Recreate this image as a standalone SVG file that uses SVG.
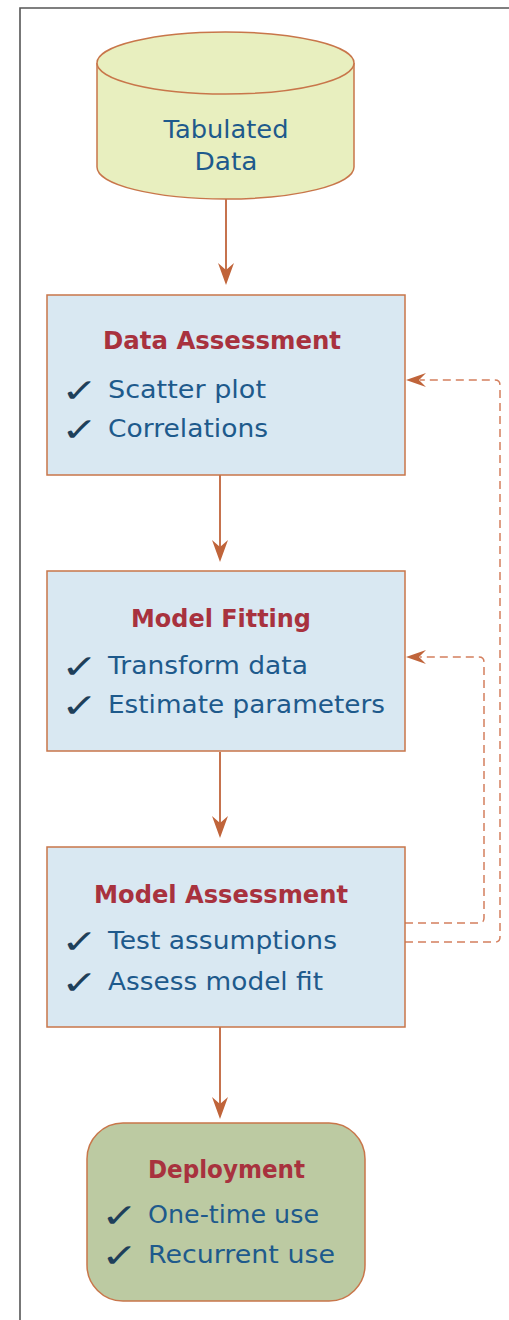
<svg xmlns="http://www.w3.org/2000/svg" width="509" height="1320" viewBox="0 0 509 1320">
<defs>
<style>
.box{fill:#d9e8f2;stroke:#c8764a;stroke-width:1.5}
.dep{fill:#bccaa2;stroke:#c8764a;stroke-width:1.5}
.cyl{fill:#e8efbf;stroke:#c8764a;stroke-width:1.5}
.title{font-family:"DejaVu Sans",sans-serif;font-weight:bold;font-size:24px;fill:#a8323e}
.item{font-family:"DejaVu Sans",sans-serif;font-size:25px;fill:#1e5a8c}
.chk{font-family:"DejaVu Sans",sans-serif;font-size:33px;fill:#1e3f5a}
.lbl{font-family:"DejaVu Sans",sans-serif;font-size:25px;fill:#1e5a8c;text-anchor:middle}
.solid{stroke:#c0643a;stroke-width:1.8;fill:none}
.dash{stroke:#d47f5e;stroke-width:1.5;fill:none;stroke-dasharray:8 5}
.head{fill:#c0643a}
</style>
</defs>
<path d="M509,8 H20 V1320" fill="none" stroke="#555" stroke-width="1.6"/>

<g id="connectors">
<path class="solid" d="M226,199 V278"/>
<path class="solid" d="M220,475 V555"/>
<path class="solid" d="M220,752 V831"/>
<path class="solid" d="M220,1027 V1112"/>
<path class="head" d="M226,285 L218,263 L226,270 L234,263 Z"/>
<path class="head" d="M220,562 L212,540 L220,547 L228,540 Z"/>
<path class="head" d="M220,838 L212,816 L220,823 L228,816 Z"/>
<path class="head" d="M220,1119 L212,1097 L220,1104 L228,1097 Z"/>
<path class="dash" d="M405,942 H495 Q500,942 500,937 V385 Q500,380 495,380 H420"/>
<path class="dash" d="M405,923 H479 Q484,923 484,918 V662 Q484,657 479,657 H420"/>
<path class="head" d="M406,380 L426,373 L419,380 L426,387 Z"/>
<path class="head" d="M406,657 L426,650 L419,657 L426,664 Z"/>
</g>

<g id="tabulated-data">
<path class="cyl" d="M97,63 V167 A128.5,32 0 0 0 354,167 V63"/>
<ellipse class="cyl" cx="225.5" cy="63" rx="128.5" ry="31"/>
<text class="lbl" x="226" y="138" textLength="125" lengthAdjust="spacingAndGlyphs">Tabulated</text>
<text class="lbl" x="226" y="170" textLength="63" lengthAdjust="spacingAndGlyphs">Data</text>
</g>

<g id="data-assessment">
<rect class="box" x="47" y="295" width="358" height="180"/>
<text class="title" x="103" y="349" textLength="238" lengthAdjust="spacingAndGlyphs">Data Assessment</text>
<text class="chk" transform="translate(61,402) scale(1.35,1)">✓</text>
<text class="item" x="108" y="398" textLength="158" lengthAdjust="spacingAndGlyphs">Scatter plot</text>
<text class="chk" transform="translate(61,441) scale(1.35,1)">✓</text>
<text class="item" x="108" y="437" textLength="160" lengthAdjust="spacingAndGlyphs">Correlations</text>
</g>

<g id="model-fitting">
<rect class="box" x="47" y="571" width="358" height="180"/>
<text class="title" x="131" y="627" textLength="180" lengthAdjust="spacingAndGlyphs">Model Fitting</text>
<text class="chk" transform="translate(61,678) scale(1.35,1)">✓</text>
<text class="item" x="108" y="674" textLength="200" lengthAdjust="spacingAndGlyphs">Transform data</text>
<text class="chk" transform="translate(61,717) scale(1.35,1)">✓</text>
<text class="item" x="108" y="713" textLength="277" lengthAdjust="spacingAndGlyphs">Estimate parameters</text>
</g>

<g id="model-assessment">
<rect class="box" x="47" y="847" width="358" height="180"/>
<text class="title" x="94" y="903" textLength="254" lengthAdjust="spacingAndGlyphs">Model Assessment</text>
<text class="chk" transform="translate(61,953) scale(1.35,1)">✓</text>
<text class="item" x="108" y="949" textLength="229" lengthAdjust="spacingAndGlyphs">Test assumptions</text>
<text class="chk" transform="translate(61,994) scale(1.35,1)">✓</text>
<text class="item" x="108" y="990" textLength="215" lengthAdjust="spacingAndGlyphs">Assess model fit</text>
</g>

<g id="deployment">
<rect class="dep" x="87" y="1123" width="278" height="178" rx="36" ry="36"/>
<text class="title" x="148" y="1178" textLength="157" lengthAdjust="spacingAndGlyphs">Deployment</text>
<text class="chk" transform="translate(101,1227) scale(1.35,1)">✓</text>
<text class="item" x="148" y="1223" textLength="171" lengthAdjust="spacingAndGlyphs">One-time use</text>
<text class="chk" transform="translate(101,1267) scale(1.35,1)">✓</text>
<text class="item" x="148" y="1263" textLength="187" lengthAdjust="spacingAndGlyphs">Recurrent use</text>
</g>
</svg>
